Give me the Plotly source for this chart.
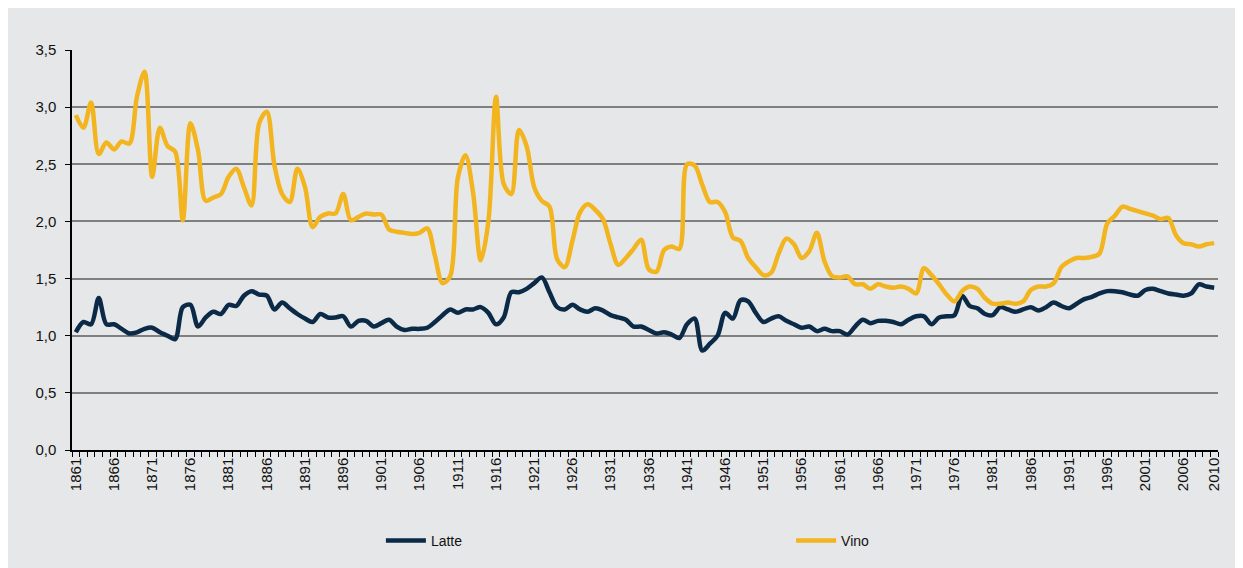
import plotly.graph_objects as go

years = list(range(1861, 2011))

latte = [
    1.03, 1.12, 1.10, 1.33, 1.10, 1.10, 1.06, 1.02, 1.03, 1.06,   # 1861-1870
    1.07, 1.03, 1.00, 0.97, 1.25, 1.27, 1.08, 1.16, 1.21, 1.19,   # 1871-1880
    1.27, 1.26, 1.35, 1.39, 1.36, 1.35, 1.23, 1.29, 1.24, 1.19,   # 1881-1890
    1.15, 1.12, 1.19, 1.16, 1.16, 1.17, 1.08, 1.13, 1.13, 1.08,   # 1891-1900
    1.11, 1.14, 1.08, 1.05, 1.06, 1.06, 1.07, 1.12, 1.18, 1.23,   # 1901-1910
    1.20, 1.23, 1.23, 1.25, 1.20, 1.10, 1.16, 1.38, 1.38, 1.41,   # 1911-1920
    1.46, 1.51, 1.38, 1.25, 1.23, 1.27, 1.23, 1.21, 1.24, 1.22,   # 1921-1930
    1.18, 1.16, 1.14, 1.08, 1.08, 1.05, 1.02, 1.03, 1.01, 0.98,   # 1931-1940
    1.10, 1.15, 0.87, 0.93, 1.00, 1.20, 1.15, 1.31, 1.30, 1.20,   # 1941-1950
    1.12, 1.15, 1.17, 1.13, 1.10, 1.07, 1.08, 1.04, 1.06, 1.04,   # 1951-1960
    1.04, 1.01, 1.08, 1.14, 1.11, 1.13, 1.13, 1.12, 1.10, 1.14,   # 1961-1970
    1.17, 1.17, 1.10, 1.16, 1.17, 1.18, 1.35, 1.26, 1.24, 1.19,   # 1971-1980
    1.18, 1.25, 1.23, 1.21, 1.23, 1.25, 1.22, 1.25, 1.29, 1.26,   # 1981-1990
    1.24, 1.28, 1.32, 1.34, 1.37, 1.39, 1.39, 1.38, 1.36, 1.35,   # 1991-2000
    1.40, 1.41, 1.39, 1.37, 1.36, 1.35, 1.37, 1.45, 1.43, 1.42,   # 2001-2010
]

vino = [
    2.93, 2.82, 3.04, 2.59, 2.69, 2.63, 2.70, 2.68, 3.09, 3.31,   # 1861-1870
    2.39, 2.82, 2.66, 2.61, 2.01, 2.86, 2.62, 2.18, 2.21, 2.24,   # 1871-1880
    2.39, 2.46, 2.30, 2.14, 2.86, 2.96, 2.49, 2.24, 2.17, 2.46,   # 1881-1890
    2.30, 1.95, 2.04, 2.07, 2.07, 2.24, 2.01, 2.04, 2.07, 2.06,   # 1891-1900
    2.06, 1.93, 1.91, 1.90, 1.89, 1.90, 1.94, 1.70, 1.46, 1.52,   # 1901-1910
    2.38, 2.58, 2.25, 1.66, 2.00, 3.09, 2.33, 2.24, 2.80, 2.66,   # 1911-1920
    2.30, 2.18, 2.13, 1.67, 1.60, 1.83, 2.08, 2.15, 2.10, 2.02,   # 1921-1930
    1.80, 1.62, 1.68, 1.76, 1.84, 1.58, 1.56, 1.75, 1.78, 1.76,   # 1931-1940
    2.50, 2.49, 2.32, 2.17, 2.17, 2.08, 1.86, 1.83, 1.68, 1.60,   # 1941-1950
    1.53, 1.55, 1.72, 1.85, 1.80, 1.68, 1.74, 1.90, 1.65, 1.52,   # 1951-1960
    1.51, 1.52, 1.45, 1.45, 1.41, 1.45, 1.43, 1.42, 1.43, 1.41,   # 1961-1970
    1.37, 1.59, 1.53, 1.45, 1.36, 1.30, 1.39, 1.43, 1.41, 1.33,   # 1971-1980
    1.28, 1.28, 1.29, 1.28, 1.30, 1.40, 1.43, 1.43, 1.46, 1.60,   # 1981-1990
    1.65, 1.68, 1.68, 1.69, 1.72, 1.98, 2.05, 2.13, 2.11, 2.09,   # 1991-2000
    2.07, 2.05, 2.02, 2.03, 1.88, 1.81, 1.80, 1.78, 1.80, 1.81,   # 2001-2010
]

x_tick_labels = [str(y) for y in range(1861, 2010, 5)] + ["2010"]
x_tick_vals = [int(s) for s in x_tick_labels]
y_tick_vals = [0, 0.5, 1.0, 1.5, 2.0, 2.5, 3.0, 3.5]

BG = "#E6E7E8"
FONT = "Liberation Sans, Arial, sans-serif"

fig = go.Figure()
fig.add_trace(go.Scatter(
    x=years, y=latte, name="Latte", mode="lines", legend="legend",
    line=dict(color="#0B2A47", width=4.5, shape="spline", smoothing=0.9),
))
fig.add_trace(go.Scatter(
    x=years, y=vino, name="Vino", mode="lines", legend="legend2",
    line=dict(color="#F2B520", width=4.5, shape="spline", smoothing=0.9),
))

legend_common = dict(
    orientation="h", yanchor="middle", xanchor="left",
    xref="container", yref="container",
    font=dict(family=FONT, size=14, color="#111111"),
    bgcolor="rgba(0,0,0,0)", itemwidth=40,
)

fig.update_layout(
    width=1243, height=568,
    paper_bgcolor=BG, plot_bgcolor=BG,
    separators=",.",
    font=dict(family=FONT, size=14, color="#111111"),
    margin=dict(l=64, r=33, t=42, b=126, autoexpand=False),
    showlegend=True,
    legend=dict(x=0.3, y=0.062, **legend_common),
    legend2=dict(x=0.63, y=0.062, **legend_common),
)

fig.update_xaxes(
    range=[1860.5, 2010.5],
    tickmode="array", tickvals=x_tick_vals, ticktext=x_tick_labels,
    tickangle=-90, ticks="", showgrid=False,
    showline=True, linecolor="#000000", linewidth=1.5,
    tickfont=dict(family=FONT, size=15, color="#111111"),
    minor=dict(ticks="outside", tick0=1860.5, dtick=1, ticklen=5,
               tickcolor="#000000", tickwidth=1, showgrid=False),
    zeroline=False, automargin=False,
)
fig.update_yaxes(
    range=[0, 3.5],
    tickmode="array", tickvals=y_tick_vals, tickformat=".1f",
    ticks="outside", ticklen=5, tickcolor="#000000",
    ticklabelstandoff=6,
    showgrid=True, gridcolor="#7F7F7F", gridwidth=1.5,
    showline=True, linecolor="#000000", linewidth=1.5,
    tickfont=dict(family=FONT, size=15, color="#111111"),
    zeroline=False, automargin=False,
)

fig.write_html("out.html")
